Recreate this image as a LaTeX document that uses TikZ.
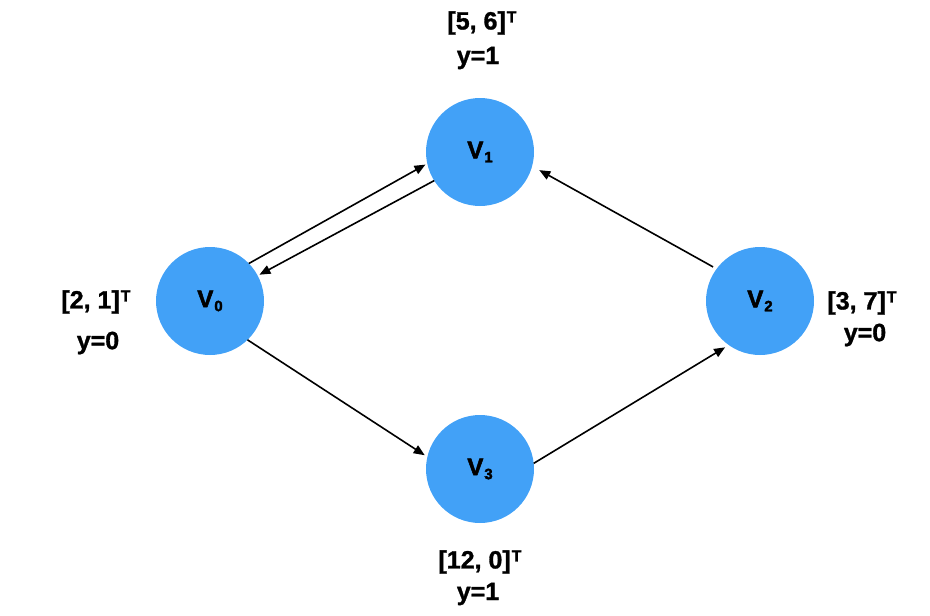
\documentclass[tikz,border=0pt]{standalone}
\usepackage{fontspec}
\setmainfont{Liberation Sans}[BoldFeatures={FakeBold=1.2}]
\newfontfamily\heavyfont{Liberation Sans}[BoldFeatures={FakeBold=2.2}]
\usetikzlibrary{arrows.meta}
\definecolor{nodeblue}{RGB}{66,161,247}
\tikzset{
  vnode/.style={circle, fill=nodeblue, minimum size=108pt, inner sep=0pt, outer sep=0pt},
  lbl/.style={font=\fontsize{25}{28}\selectfont\bfseries, inner sep=0pt},
  edge/.style={line width=1.6pt, -{Triangle[length=11pt,width=9pt]}}
}
\newcommand{\vsub}[1]{\heavyfont\bfseries\fontsize{24}{26}\selectfont V\kern1pt\raisebox{-4pt}{\fontsize{15}{15}\selectfont #1}}
\newcommand{\tsup}{\kern1pt\raisebox{7pt}{\fontsize{16}{16}\selectfont\bfseries T}}
\begin{document}
\begin{tikzpicture}[x=1pt,y=-1pt]
\useasboundingbox (0,0) rectangle (930,616);
\node[vnode] (v0) at (210,301) {\vsub{0}};
\node[vnode] (v1) at (480,152) {\vsub{1}};
\node[vnode] (v2) at (760,301) {\vsub{2}};
\node[vnode] (v3) at (480,469) {\vsub{3}};

\node[lbl] (t1) at (482,23) {[5, 6]\tsup};
\node[lbl] (y1) at (478,58) {y=1};
\node[lbl] (t0) at (96,302) {[2, 1]\tsup};
\node[lbl] (y0) at (98,343) {y=0};
\node[lbl] (t2) at (862,303) {[3, 7]\tsup};
\node[lbl] (y2) at (865,335) {y=0};
\node[lbl] (t3) at (480,562) {[12, 0]\tsup};
\node[lbl] (y3) at (478,594) {y=1};

\draw[edge] (v0.44) -- ([shift={(193:2pt)}]v1.193);
\draw[edge] (v1.212) -- ([shift={(28:2pt)}]v0.28);
\draw[edge] (v0.-46) -- ([shift={(166:3pt)}]v3.166);
\draw[edge] (v3.6) -- ([shift={(233:4pt)}]v2.233);
\draw[edge] ([shift={(144:4pt)}]v2.144) -- ([shift={(-17:8pt)}]v1.-17);
\end{tikzpicture}
\end{document}
